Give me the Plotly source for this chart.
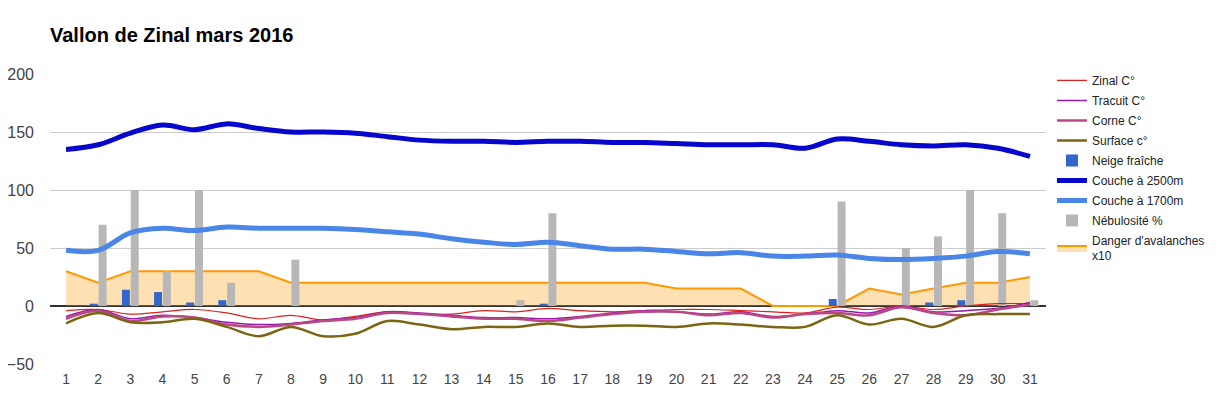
import plotly.graph_objects as go

days = list(range(1, 32))

zinal = [-4, -3, -7, -5, -3, -6, -11, -8, -12, -9, -5, -7, -7, -4, -5, -2, -4, -5, -4,
         -3, -3, -4, -5, -6, -1, -3, 0, -3, 0, 2, 2]
tracuit = [-9, -3, -11, -8, -10, -14, -16, -15, -12, -10, -5, -6, -8, -10, -10, -11, -9, -6, -4,
           -5, -7, -5, -9, -7, -4, -6, 0, -5, -4, -2, 3]
corne = [-11, -4, -13, -9, -10, -16, -18, -16, -13, -11, -6, -7, -9, -11, -11, -13, -10, -7, -5,
         -5, -8, -6, -10, -7, -6, -8, -1, -6, -8, -3, 1]
surface = [-15, -6, -14, -14, -11, -18, -26, -18, -26, -24, -13, -16, -20, -18, -18, -15, -18, -17, -17,
           -18, -15, -16, -18, -18, -8, -16, -11, -18, -8, -7, -7]
neige = [0, 2, 14, 12, 3, 5, 0, 0, 0, 0, 0, 0, 0, 0, 0, 2, 0, 0, 0,
         0, 0, 0, 0, 0, 6, 0, 0, 3, 5, 0, 0]
couche2500 = [135, 139, 149, 156, 152, 157, 153, 150, 150, 149, 146, 143, 142, 142, 141, 142, 142, 141, 141,
              140, 139, 139, 139, 136, 144, 142, 139, 138, 139, 136, 129]
couche1700 = [48, 48, 63, 67, 65, 68, 67, 67, 67, 66, 64, 62, 58, 55, 53, 55, 52, 49, 49,
              47, 45, 46, 43, 43, 44, 41, 40, 41, 43, 47, 45]
nebulosite = [0, 70, 100, 30, 100, 20, 0, 40, 0, 0, 0, 0, 0, 0, 5, 80, 0, 0, 0,
              0, 0, 0, 0, 0, 90, 0, 50, 60, 100, 80, 5]
danger = [30, 20, 30, 30, 30, 30, 30, 20, 20, 20, 20, 20, 20, 20, 20, 20, 20, 20, 20,
          15, 15, 15, 0, 0, 0, 15, 10, 15, 20, 20, 25]

y_ticks = [-50, 0, 50, 100, 150, 200]

FONT = "Liberation Sans, Arial, sans-serif"


def nz(vals):
    # empty bars are not drawn at all
    return [v if v else None for v in vals]


fig = go.Figure()


def line(name, vals, color, width, shape="spline"):
    return go.Scatter(x=days, y=vals, name=name, legendgroup=name, mode="lines",
                      line=dict(color=color, width=width, shape=shape),
                      yaxis="y3")


fig.add_trace(line("Zinal C°", zinal, "#e0201c", 1.2))
fig.add_trace(line("Tracuit C°", tracuit, "#9a16b0", 1.5))
fig.add_trace(line("Corne C°", corne, "#b84a82", 2.5))
fig.add_trace(line("Surface c°", surface, "#7b6512", 2.5))
fig.add_trace(go.Bar(x=days, y=nz(neige), name="Neige fraîche", legendgroup="neige",
                     marker=dict(color="#3366cc", line=dict(width=0)), yaxis="y2"))
fig.add_trace(line("Couche à 2500m", couche2500, "#0606cc", 5))
fig.add_trace(line("Couche à 1700m", couche1700, "#4a86e8", 5))
fig.add_trace(go.Bar(x=days, y=nz(nebulosite), name="Nébulosité %", legendgroup="neb",
                     marker=dict(color="#b7b7b7", line=dict(width=0)), yaxis="y2"))
fig.add_trace(go.Scatter(x=days, y=danger, name="Danger d'avalanches<br>x10",
                         legendgroup="danger", mode="lines",
                         line=dict(color="#ff9900", width=2), fill="tozeroy",
                         fillcolor="rgba(255,153,0,0.3)", yaxis="y"))

# The page body has an 8px margin, so the figure is placed at (8, 8).
fig.update_layout(
    width=1208, height=389,
    margin=dict(l=42, r=170, t=66, b=33, autoexpand=False),
    paper_bgcolor="white", plot_bgcolor="white",
    font=dict(family=FONT, color="#222222"),
    title=dict(text="<b>Vallon de Zinal mars 2016</b>", x=42 / 1208, xanchor="left",
               y=1 - 27 / 389, yanchor="middle", font=dict(size=20, color="#000000")),
    barmode="group", bargap=0.45, bargroupgap=0.1,
    showlegend=True,
    legend=dict(x=1.006, xanchor="left", y=1.028, yanchor="top",
                font=dict(size=12, color="#222222"), traceorder="grouped",
                tracegroupgap=1, bgcolor="rgba(0,0,0,0)"),
    xaxis=dict(range=[0.5, 31.5], tickmode="array", tickvals=days,
               ticktext=[str(d) for d in days], showgrid=False, zeroline=False,
               showline=False, tickfont=dict(size=14, color="#444444"),
               ticklabelstandoff=5),
    yaxis=dict(range=[-50, 200], tickmode="array", tickvals=y_ticks,
               showgrid=True, gridcolor="#cccccc", gridwidth=1,
               zeroline=True, zerolinecolor="#333333", zerolinewidth=1.5,
               showline=False, tickfont=dict(size=16, color="#444444"),
               ticklabelstandoff=15),
    yaxis2=dict(range=[-50, 200], overlaying="y", visible=False, showgrid=False,
                zeroline=False),
    yaxis3=dict(range=[-50, 200], overlaying="y", visible=False, showgrid=False,
                zeroline=False),
)

fig.write_html("out.html")
